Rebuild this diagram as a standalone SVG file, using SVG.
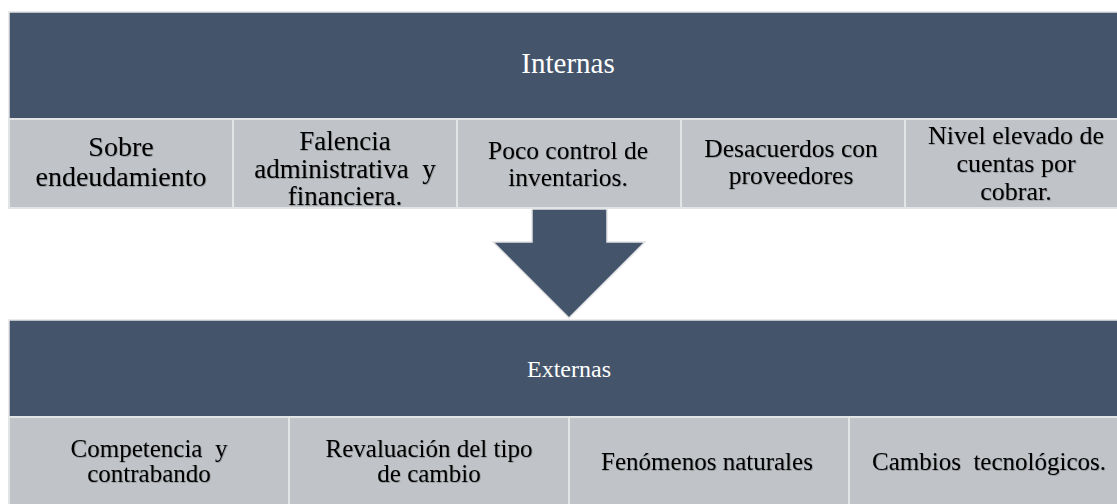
<svg xmlns="http://www.w3.org/2000/svg" width="1117" height="504" viewBox="0 0 1117 504">
<style>
.band{fill:#44546a;stroke:#e3e4e6;stroke-width:1.5}
.cell{fill:#c0c3c8;stroke:#e3e4e6;stroke-width:2}
.ht{fill:#ffffff;text-anchor:middle;font-family:"Liberation Serif","Times New Roman",serif}
.ct{fill:#000000;text-anchor:middle;font-family:"Liberation Serif","Times New Roman",serif;filter:url(#sh)}
</style>
<defs>
<filter id="sh" x="-10%" y="-40%" width="120%" height="180%">
<feDropShadow dx="0.7" dy="0.7" stdDeviation="0.7" flood-color="#000000" flood-opacity="0.3"/>
</filter>
</defs>
<rect x="0" y="0" width="1117" height="504" fill="#ffffff"/>

<g id="internas">
<rect class="band" x="9" y="12" width="1120" height="107"/>
<text class="ht" x="568" y="73" font-size="29">Internas</text>
</g>

<g id="i1">
<rect class="cell" x="9" y="119" width="224" height="89"/>
<text class="ct" x="121" y="156" font-size="28">Sobre</text>
<text class="ct" x="121" y="186" font-size="28">endeudamiento</text>
</g>
<g id="i2">
<rect class="cell" x="233" y="119" width="224" height="89"/>
<text class="ct" x="345" y="150" font-size="27">Falencia</text>
<text class="ct" x="345" y="178" font-size="27" xml:space="preserve">administrativa  y</text>
<text class="ct" x="345" y="205" font-size="27">financiera.</text>
</g>
<g id="i3">
<rect class="cell" x="457" y="119" width="224" height="89"/>
<text class="ct" x="568" y="159" font-size="25.5">Poco control de</text>
<text class="ct" x="568" y="186" font-size="25.5">inventarios.</text>
</g>
<g id="i4">
<rect class="cell" x="681" y="119" width="224" height="89"/>
<text class="ct" x="791" y="157" font-size="25.5">Desacuerdos con</text>
<text class="ct" x="791" y="184" font-size="25.5">proveedores</text>
</g>
<g id="i5">
<rect class="cell" x="905" y="119" width="224" height="89"/>
<text class="ct" x="1016" y="144" font-size="26">Nivel elevado de</text>
<text class="ct" x="1016" y="172" font-size="26">cuentas por</text>
<text class="ct" x="1016" y="200" font-size="26">cobrar.</text>
</g>

<g id="connectors">
<polygon points="532,209 607,209 607,242 645,242 569,318 493,242 532,242" fill="#44546a" stroke="#e3e4e6" stroke-width="1.5"/>
</g>

<g id="externas">
<rect class="band" x="9" y="320" width="1120" height="97"/>
<text class="ht" x="569" y="377" font-size="24">Externas</text>
</g>

<g id="e1">
<rect class="cell" x="9" y="417" width="280" height="90"/>
<text class="ct" x="149" y="457" font-size="25" xml:space="preserve">Competencia  y</text>
<text class="ct" x="149" y="482" font-size="25">contrabando</text>
</g>
<g id="e2">
<rect class="cell" x="289" y="417" width="280" height="90"/>
<text class="ct" x="429" y="457" font-size="25">Revaluación del tipo</text>
<text class="ct" x="429" y="482" font-size="25">de cambio</text>
</g>
<g id="e3">
<rect class="cell" x="569" y="417" width="280" height="90"/>
<text class="ct" x="707" y="470" font-size="25">Fenómenos naturales</text>
</g>
<g id="e4">
<rect class="cell" x="849" y="417" width="280" height="90"/>
<text class="ct" x="989" y="470" font-size="25" xml:space="preserve">Cambios  tecnológicos.</text>
</g>
</svg>
